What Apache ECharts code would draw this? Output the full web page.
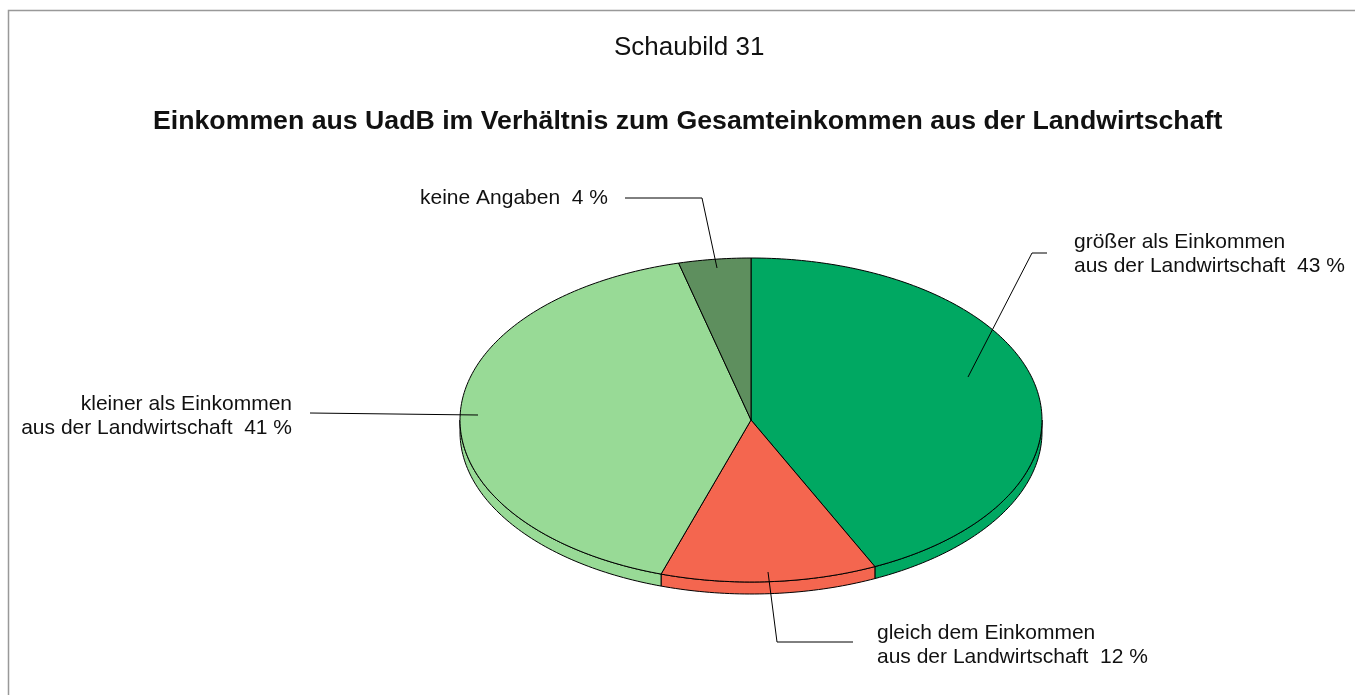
<!DOCTYPE html>
<html>
<head>
<meta charset="utf-8">
<title>Schaubild 31</title>
<script src="https://cdn.jsdelivr.net/npm/echarts@6/dist/echarts.min.js"></script>
<style>
  html, body { margin: 0; padding: 0; background: #fff; }
  #pie { width: 1355px; height: 695px; }
</style>
</head>
<body>
<div id="pie"></div>
<script>
// Daten (Prozent), im Uhrzeigersinn ab 12 Uhr
const categories = [
    'größer als Einkommen\naus der Landwirtschaft',
    'gleich dem Einkommen\naus der Landwirtschaft',
    'kleiner als Einkommen\naus der Landwirtschaft',
    'keine Angaben'
];
const values = [43, 12, 41, 4];
const colors = ['#00a862', '#f4664f', '#98da96', '#5e8f5e'];

// Beschriftung: Führungslinie (Punkte) und Textanker
const labelLayout = [
    { line: [[968, 377], [1032, 253], [1047, 253]], text: [1074, 254], align: 'left' },
    { line: [[768, 572], [777, 642], [853, 642]], text: [877, 645], align: 'left' },
    { line: [[478, 415], [310, 413]], text: [292, 416], align: 'right' },
    { line: [[717, 268], [702, 198], [625, 198]], text: [608, 198], align: 'right' }
];

// Ellipse der "3D"-Torte
const cx = 751, cy = 420, rx = 291, ry = 162, depth = 12;

const total = values.reduce((a, b) => a + b, 0);
const starts = [];
let acc = 0;
values.forEach(v => { starts.push(acc / total * 360); acc += v; });

function pt(deg, dy) {
    const r = deg * Math.PI / 180;
    return [cx + rx * Math.sin(r), cy - ry * Math.cos(r) + (dy || 0)];
}
function arc(a0, a1, dy) {
    const pts = [];
    const n = Math.max(2, Math.ceil(Math.abs(a1 - a0)));
    for (let i = 0; i <= n; i++) pts.push(pt(a0 + (a1 - a0) * i / n, dy));
    return pts;
}

// Seitenwand nur vorne sichtbar (90° .. 270°)
function renderSide(params, api) {
    const i = params.dataIndex;
    const a0 = Math.max(starts[i], 90);
    const a1 = Math.min(starts[i] + api.value(1) / total * 360, 270);
    if (a1 <= a0) return;
    const top = arc(a0, a1, 0);
    const bottom = arc(a0, a1, depth).reverse();
    return {
        type: 'polygon',
        shape: { points: top.concat(bottom) },
        style: { fill: colors[i], stroke: '#000', lineWidth: 1 }
    };
}

function renderTop(params, api) {
    const i = params.dataIndex;
    const a0 = starts[i];
    const a1 = a0 + api.value(1) / total * 360;
    return {
        type: 'polygon',
        shape: { points: [[cx, cy]].concat(arc(a0, a1, 0)) },
        style: { fill: colors[i], stroke: '#000', lineWidth: 1 }
    };
}

function renderLabel(params, api) {
    const i = params.dataIndex;
    const lay = labelLayout[i];
    return {
        type: 'group',
        children: [
            {
                type: 'polyline',
                shape: { points: lay.line },
                style: { stroke: '#000', lineWidth: 1, fill: null }
            },
            {
                type: 'text',
                x: lay.text[0],
                y: lay.text[1],
                style: {
                    text: categories[i] + '  ' + api.value(1) + ' %',
                    fill: '#111',
                    font: '21px Arial, "Liberation Sans", sans-serif',
                    lineHeight: 24,
                    align: lay.align,
                    verticalAlign: 'middle'
                }
            }
        ]
    };
}

const seriesData = values.map((v, i) => [i, v]);

let chartDom = document.getElementById('pie');
let chart = echarts.init(chartDom);
window.addEventListener('resize', function () {
    chart.resize();
});

let option = {
    animation: false,
    backgroundColor: '#fff',
    title: [
        {
            text: 'Schaubild 31',
            left: 609,
            top: 30,
            textStyle: { fontFamily: 'Arial, "Liberation Sans"', fontSize: 26, fontWeight: 'normal', color: '#111' }
        },
        {
            text: 'Einkommen aus UadB im Verhältnis zum Gesamteinkommen aus der Landwirtschaft',
            left: 148,
            top: 103,
            textStyle: { fontFamily: 'Arial, "Liberation Sans"', fontSize: 26.7, fontWeight: 'bold', color: '#111' }
        }
    ],
    graphic: [
        {
            type: 'rect',
            shape: { x: 8.5, y: 10.5, width: 2000, height: 2000 },
            style: { fill: null, stroke: '#999', lineWidth: 1.5 },
            silent: true
        }
    ],
    series: [
        { type: 'custom', coordinateSystem: 'none', renderItem: renderSide, data: seriesData, z: 1 },
        { type: 'custom', coordinateSystem: 'none', renderItem: renderTop, data: seriesData, z: 2 },
        { type: 'custom', coordinateSystem: 'none', renderItem: renderLabel, data: seriesData, z: 3 }
    ]
};

option && chart.setOption(option);
</script>
</body>
</html>
